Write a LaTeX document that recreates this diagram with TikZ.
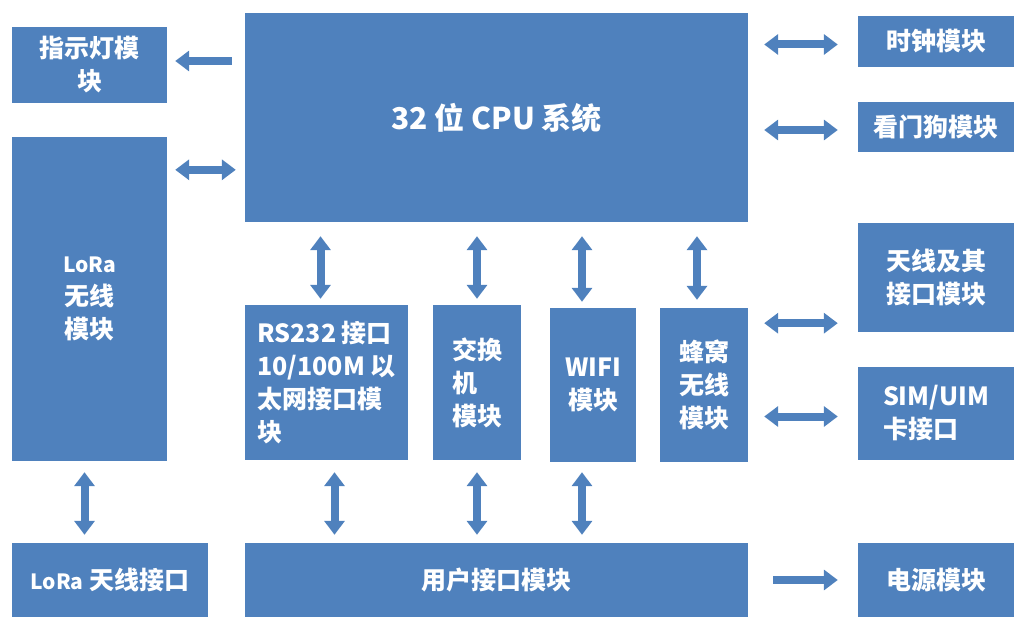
\documentclass[tikz,border=0pt]{standalone}
\usepackage{fontspec}
\setmainfont{Noto Sans CJK SC}
\usepackage{tikz}
\usetikzlibrary{arrows.meta}

\definecolor{blockblue}{RGB}{79,129,189}

\begin{document}
\begin{tikzpicture}
		[x=1pt,y=-1pt,
		block/.style= {fill=blockblue,text=white,inner sep=0pt,align=center,font=\bfseries\fontsize{25}{33}\selectfont},
		leftblock/.style= {block,align=left},
		one/.style= {draw=blockblue,line width=8pt,-{Triangle[width=20pt,length=14pt]}},
		two/.style= {draw=blockblue,line width=8pt,{Triangle[width=20pt,length=14pt]}-{Triangle[width=20pt,length=14pt]}}]

		\useasboundingbox (0,0) rectangle (1014,617);

		\node[block,minimum width=503,minimum height=209] (cpu) at (496.5,117.5) {\fontsize{30}{36}\selectfont 32 位 CPU 系统};
		\node[block,minimum width=155,minimum height=76] (lamp) at (89.5,65) {指示灯模\\块};
		\node[block,minimum width=155,minimum height=324] (lora) at (89.5,299) {{\fontsize{21}{30}\selectfont LoRa}\\无线\\模块};

		\node[block,minimum width=156,minimum height=51] (clock) at (936,41.5) {时钟模块};
		\node[block,minimum width=156,minimum height=50] (dog) at (936,127) {看门狗模块};
		\node[block,minimum width=156,minimum height=109] (ant) at (936,277.5) {天线及其\\接口模块};
		\node[leftblock,minimum width=156,minimum height=93] (sim) at (936,413.5) {SIM/UIM\\卡接口};

		\node[leftblock,minimum width=163,minimum height=155] (rs) at (326.5,382.5) {RS232 接口\\10/100M 以\\太网接口模\\块};
		\node[leftblock,minimum width=88,minimum height=155] (sw) at (477,382.5) {交换\\机\\模块};
		\node[block,minimum width=86,minimum height=154] (wifi) at (593,385) {WIFI\\模块};
		\node[block,minimum width=88,minimum height=154] (cell) at (704,385) {蜂窝\\无线\\模块};

		\node[block,minimum width=196,minimum height=74] (lant) at (110,580) {{\fontsize{21}{30}\selectfont LoRa} 天线接口};
		\node[block,minimum width=503,minimum height=74] (user) at (496.5,580) {用户接口模块};
		\node[block,minimum width=156,minimum height=74] (power) at (936,580) {电源模块};

		\draw[one,shorten <=13pt,shorten >=8pt] ([yshift=4pt]lamp.east -| cpu.west) -- ([yshift=4pt]lamp.east);
		\draw[two,shorten <=8pt,shorten >=9pt] ([yshift=-33pt]lora.north east) -- ([yshift=-33pt]lora.north east -| cpu.west);

		\draw[two,shorten <=16pt,shorten >=20pt] ([yshift=-3pt]clock.west -| cpu.east) -- ([yshift=-3pt]clock.west);
		\draw[two,shorten <=16pt,shorten >=20pt] ([yshift=-3pt]dog.west -| cpu.east) -- ([yshift=-3pt]dog.west);
		\draw[two,shorten <=16pt,shorten >=20pt] ([yshift=9pt]ant.south west -| cell.east) -- ([yshift=9pt]ant.south west);
		\draw[two,shorten <=16pt,shorten >=20pt] ([yshift=-3pt]sim.west -| cell.east) -- ([yshift=-3pt]sim.west);
		\draw[one,shorten <=25pt,shorten >=20pt] (power.west -| user.east) -- (power.west);

		\draw[two,shorten <=14pt,shorten >=6pt] ([xshift=-6pt]rs.north |- cpu.south) -- ([xshift=-6pt]rs.north);
		\draw[two,shorten <=14pt,shorten >=6pt] (sw.north |- cpu.south) -- (sw.north);
		\draw[two,shorten <=14pt,shorten >=6pt] ([xshift=-11pt]wifi.north |- cpu.south) -- ([xshift=-11pt]wifi.north);
		\draw[two,shorten <=14pt,shorten >=8pt] ([xshift=-7pt]cell.north |- cpu.south) -- ([xshift=-7pt]cell.north);

		\draw[two,shorten <=11pt,shorten >=8pt] ([xshift=-5pt]lora.south) -- ([xshift=-5pt]lora.south |- lant.north);
		\draw[two,shorten <=12pt,shorten >=8pt] ([xshift=8pt]rs.south) -- ([xshift=8pt]rs.south |- user.north);
		\draw[two,shorten <=12pt,shorten >=8pt] (sw.south) -- (sw.south |- user.north);
		\draw[two,shorten <=10pt,shorten >=8pt] ([xshift=-11pt]wifi.south) -- ([xshift=-11pt]wifi.south |- user.north);

	\end{tikzpicture}
\end{document}
